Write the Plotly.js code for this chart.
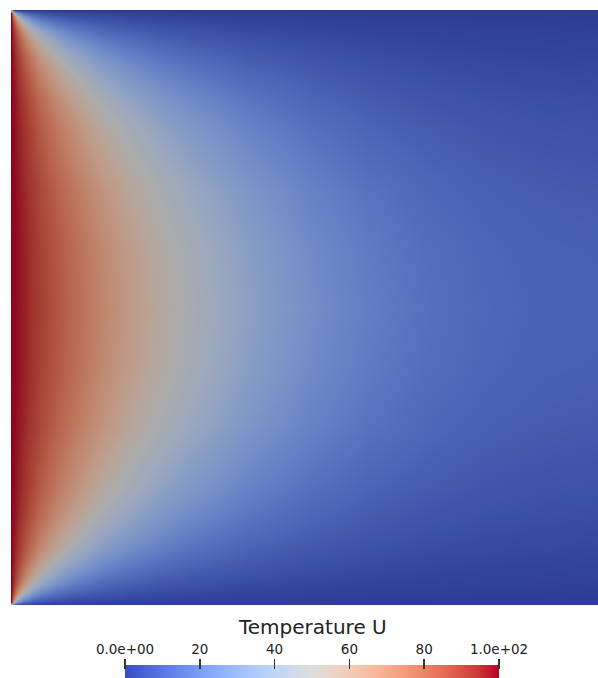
<!DOCTYPE html>
<html>
<head>
<meta charset="utf-8">
<script src="https://cdn.plot.ly/plotly-3.0.1.min.js"></script>
<style>html,body{margin:0;padding:0;background:#fff;overflow:hidden;}#plot{width:598px;height:678px;}</style>
</head>
<body>
<div id="plot"></div>
<script>
// Sample positions across the square (x from left edge, y from top edge)
const xPos = [0, 0.005, 0.01, 0.02, 0.035, 0.05, 0.075, 0.1, 0.15, 0.2, 0.25, 0.3, 0.4, 0.5, 0.6, 0.7, 0.8, 0.9, 1.0];
const yPos = [0, 0.005, 0.01, 0.02, 0.035, 0.05, 0.075, 0.1, 0.15, 0.2, 0.3, 0.4, 0.5, 0.6, 0.7, 0.8, 0.85, 0.9, 0.925, 0.95, 0.965, 0.98, 0.99, 0.995, 1.0];

// Temperature U at those positions
const temperatureU = [
  [50,0,0,0,0,0,0,0,0,0,0,0,0,0,0,0,0,0,0],
  [100,50.0,29.5,15.6,9.0,6.3,4.2,3.1,2.1,1.5,1.2,0.9,0.6,0.5,0.3,0.3,0.2,0.2,0.2],
  [100,70.5,50.0,29.5,17.7,12.5,8.4,6.2,4.1,3.0,2.3,1.9,1.3,0.9,0.7,0.5,0.4,0.4,0.3],
  [100,84.4,70.5,50.0,33.0,24.1,16.5,12.4,8.2,6.0,4.6,3.7,2.5,1.8,1.3,1.0,0.8,0.7,0.7],
  [100,91.0,82.3,66.9,49.9,38.7,27.6,21.1,14.1,10.4,8.1,6.5,4.4,3.2,2.3,1.8,1.5,1.3,1.2],
  [100,93.6,87.4,75.7,61.0,49.8,37.1,29.1,19.8,14.7,11.4,9.2,6.3,4.5,3.3,2.6,2.1,1.8,1.7],
  [100,95.7,91.5,83.4,72.1,62.2,49.5,40.3,28.5,21.4,16.8,13.6,9.3,6.7,5.0,3.8,3.1,2.7,2.6],
  [100,96.9,93.7,87.4,78.4,70.1,58.3,49.1,36.0,27.7,21.9,17.8,12.3,8.9,6.6,5.1,4.1,3.6,3.4],
  [100,98.0,95.8,91.5,85.1,78.8,69.4,61.1,47.8,38.1,30.9,25.4,17.8,12.9,9.6,7.4,6.0,5.3,5.0],
  [100,98.6,96.9,93.5,88.5,83.5,75.7,68.5,56.0,46.1,38.2,31.9,22.7,16.6,12.4,9.6,7.8,6.8,6.5],
  [100,99.2,97.9,95.5,91.8,88.0,82.0,76.4,65.7,56.3,48.2,41.2,30.3,22.5,17.0,13.2,10.7,9.4,8.9],
  [100,99.4,98.4,96.3,93.2,89.8,84.7,79.7,70.2,61.3,53.4,46.3,34.7,26.0,19.8,15.4,12.6,11.0,10.5],
  [100,99.5,98.5,96.5,93.5,90.3,85.4,80.6,71.4,62.8,55.0,47.9,36.1,27.3,20.8,16.2,13.2,11.5,11.0],
  [100,99.4,98.4,96.3,93.2,89.8,84.7,79.7,70.2,61.3,53.4,46.3,34.7,26.0,19.8,15.4,12.6,11.0,10.5],
  [100,99.2,97.9,95.5,91.8,88.0,82.0,76.4,65.7,56.3,48.2,41.2,30.3,22.5,17.0,13.2,10.7,9.4,8.9],
  [100,98.6,96.9,93.5,88.5,83.5,75.7,68.5,56.0,46.1,38.2,31.9,22.7,16.6,12.4,9.6,7.8,6.8,6.5],
  [100,98.0,95.8,91.5,85.1,78.8,69.4,61.1,47.8,38.1,30.9,25.4,17.8,12.9,9.6,7.4,6.0,5.3,5.0],
  [100,96.9,93.7,87.4,78.4,70.1,58.3,49.1,36.0,27.7,21.9,17.8,12.3,8.9,6.6,5.1,4.1,3.6,3.4],
  [100,95.7,91.5,83.4,72.1,62.2,49.5,40.3,28.5,21.4,16.8,13.6,9.3,6.7,5.0,3.8,3.1,2.7,2.6],
  [100,93.6,87.4,75.7,61.0,49.8,37.1,29.1,19.8,14.7,11.4,9.2,6.3,4.5,3.3,2.6,2.1,1.8,1.7],
  [100,91.0,82.3,66.9,49.9,38.7,27.6,21.1,14.1,10.4,8.1,6.5,4.4,3.2,2.3,1.8,1.5,1.3,1.2],
  [100,84.4,70.5,50.0,33.0,24.1,16.5,12.4,8.2,6.0,4.6,3.7,2.5,1.8,1.3,1.0,0.8,0.7,0.7],
  [100,70.5,50.0,29.5,17.7,12.5,8.4,6.2,4.1,3.0,2.3,1.9,1.3,0.9,0.7,0.5,0.4,0.4,0.3],
  [100,50.0,29.5,15.6,9.0,6.3,4.2,3.1,2.1,1.5,1.2,0.9,0.6,0.5,0.3,0.3,0.2,0.2,0.2],
  [50,0,0,0,0,0,0,0,0,0,0,0,0,0,0,0,0,0,0]
];

// Colour bar
const scaleRange = [0, 100];
const barTickVals = [0, 20, 40, 60, 80, 100];
const barTickText = ['0.0e+00', '20', '40', '60', '80', '1.0e+02'];
const barTitle = 'Temperature U';

// Cool-to-warm colour map (stop, r, g, b)
const coolWarm = [
  [0.0,59,76,192],[0.0625,77,104,215],[0.125,98,130,234],[0.1875,119,154,247],
  [0.25,141,176,254],[0.3125,163,194,255],[0.375,184,208,249],[0.4375,204,217,238],
  [0.5,221,221,221],[0.5625,236,211,197],[0.625,245,196,173],[0.6875,247,177,148],
  [0.75,244,154,123],[0.8125,236,127,99],[0.875,222,96,77],[0.9375,203,62,56],[1.0,180,4,38]
];
function makeScale(k) {
  return coolWarm.map(s => [s[0], 'rgb(' + Math.round(s[1]*k) + ',' + Math.round(s[2]*k) + ',' + Math.round(s[3]*k) + ')']);
}
const fieldScale = makeScale(0.78);  // shaded surface
const barScale = makeScale(1.0);

const W = 598, H = 678;
const fontFam = 'DejaVu Sans, sans-serif';

const traces = [
  {
    type: 'heatmap', x: xPos, y: yPos, z: temperatureU,
    zmin: scaleRange[0], zmax: scaleRange[1], zsmooth: 'best',
    colorscale: fieldScale, showscale: false, hoverinfo: 'skip',
    xaxis: 'x', yaxis: 'y'
  },
  {
    type: 'heatmap', x: scaleRange, y: [0], z: [scaleRange],
    zmin: scaleRange[0], zmax: scaleRange[1], zsmooth: 'best',
    colorscale: barScale, showscale: false, hoverinfo: 'skip',
    xaxis: 'x2', yaxis: 'y2'
  }
];

const hidden = {showgrid: false, zeroline: false, showline: false, showticklabels: false, ticks: ''};

const layout = {
  width: W, height: H,
  margin: {l: 0, r: 0, t: 0, b: 0, pad: 0},
  paper_bgcolor: '#ffffff', plot_bgcolor: '#ffffff',
  showlegend: false,
  xaxis: Object.assign({domain: [11 / W, 1], range: [0, 587 / 595], fixedrange: true}, hidden),
  yaxis: Object.assign({domain: [73 / H, 668 / H], range: [1, 0], fixedrange: true}, hidden),
  xaxis2: {
    domain: [125 / W, 499 / W], range: scaleRange, anchor: 'free', position: 9 / H,
    side: 'top', showgrid: false, zeroline: false, showline: false,
    ticks: 'outside', ticklen: 10, tickwidth: 1.5, tickcolor: '#333',
    tickmode: 'array', tickvals: barTickVals, ticktext: barTickText,
    tickfont: {family: fontFam, size: 13.5, color: '#222'}, fixedrange: true
  },
  yaxis2: Object.assign({domain: [0, 13 / H], range: [-0.5, 0.5], anchor: 'x2', fixedrange: true}, hidden),
  annotations: [{
    text: barTitle, xref: 'paper', yref: 'paper',
    x: 312 / W, y: (H - 627) / H, xanchor: 'center', yanchor: 'middle',
    showarrow: false, font: {family: fontFam, size: 20, color: '#222'}
  }]
};

Plotly.newPlot('plot', traces, layout, {staticPlot: true, displayModeBar: false});
</script>
</body>
</html>
